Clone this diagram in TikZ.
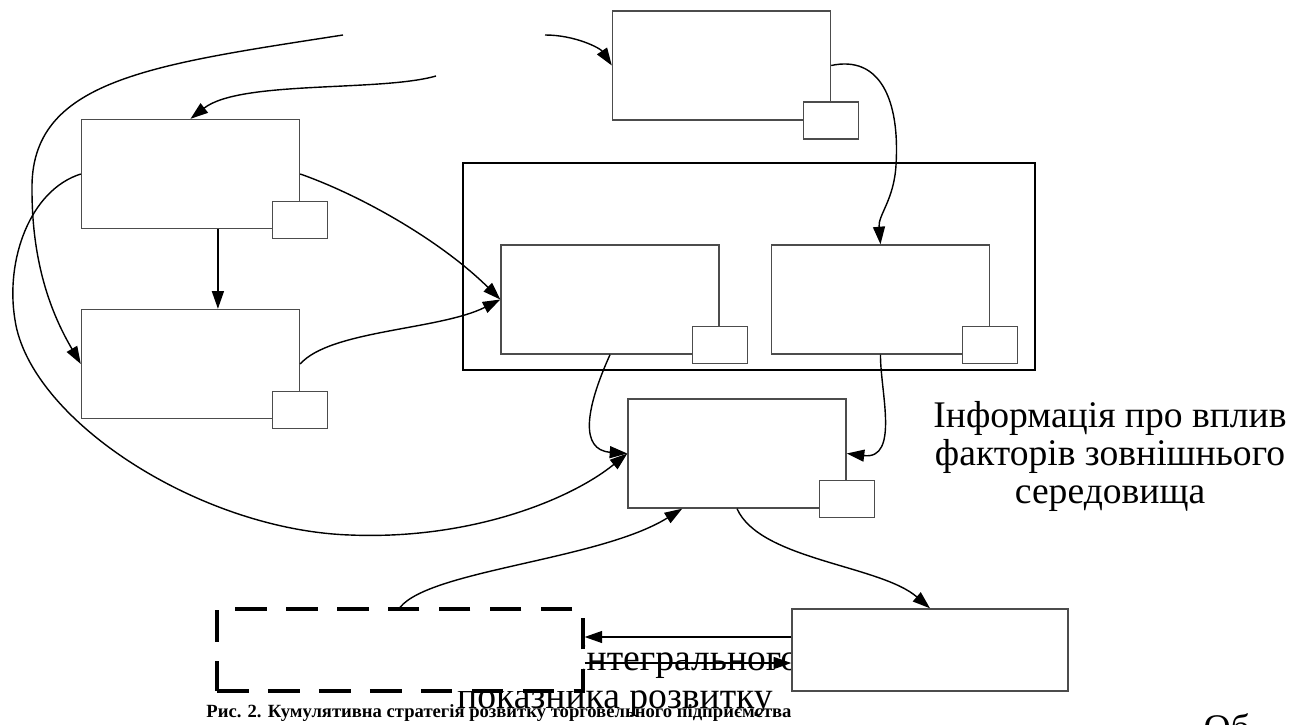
\documentclass[tikz,border=0pt]{standalone}
\usepackage{fontspec}
\setmainfont{Liberation Serif}
\usetikzlibrary{arrows.meta}
\begin{document}
\begin{tikzpicture}[x=0.1mm, y=-0.1mm,
    blk/.style={draw=black!70, fill=white, line width=0.4pt, inner sep=0pt, minimum width=21.8mm, minimum height=10.9mm},
    tag/.style={draw=black!70, fill=white, line width=0.4pt, inner sep=0pt, minimum width=5.5mm, minimum height=3.7mm},
    arr/.style={-{Triangle[length=5pt,width=3.4pt]}, line width=0.4pt},
    lbl/.style={font=\fontsize{10.7}{10.8}\selectfont, inner sep=0pt}]
\useasboundingbox (0,0) rectangle (1307,724);

\node[draw, line width=0.6pt, minimum width=57.2mm, minimum height=20.7mm] (grp) at (749,266.5) {};
\node[blk] (A) at (190.5,174) {};
\node[blk] (B) at (190.5,364) {};
\node[blk] (T) at (721.5,65.5) {};
\node[blk] (L) at (610,299.5) {};
\node[blk] (R) at (880.5,299.5) {};
\node[blk] (M) at (737,453.5) {};
\foreach \b in {A,B,L,R,M}
  \node[tag, yshift=2.7pt] (\b t) at (\b.south east) {};
\node[tag] (Tt) at (T.south east) {};

\node[lbl, anchor=base east] (intg) at (800,670) {Інтегрального};
\node[lbl, anchor=base] (pokaz) at (615,708) {показника розвитку};
\node[lbl, anchor=base west] (ob) at (1203,740) {Об};
\node[lbl, align=center, anchor=north] (info) at (1110,401) {Інформація про вплив\\факторів зовнішнього\\середовища};
\node[font=\bfseries\fontsize{5.3}{6}\selectfont, anchor=base, inner sep=0pt] (cap) at (499,717) {Рис. 2. Кумулятивна стратегія розвитку торговельного підприємства};

\node[blk, draw=black, line width=0.9pt, dash pattern=on 9pt off 5.5pt, minimum width=36.6mm, minimum height=8.2mm] (D) at (400,650) {};
\node[blk, minimum width=27.6mm, minimum height=8.2mm] (BR) at (930,650) {};

\coordinate (s1) at (343,35);
\coordinate (s2) at (436,76);
\coordinate (s3) at (545,35);

\draw[arr] (s1) .. controls (150,65) and (30,80) .. (32,190) .. controls (32,270) and (55,320) .. (B.west);
\draw[arr] (s2) .. controls (380,92) and (240,80) .. (A.north);
\draw[arr] (s3) .. controls (575,35) and (600,48) .. (T.west);
\draw[arr] (T.east) .. controls (880,55) and (900,100) .. (896,165) .. controls (894,200) and (878,215) .. (R.north);
\draw[arr] (A.west) .. controls (30,190) and (5,260) .. (15,320) .. controls (30,420) and (200,530) .. (350,535) .. controls (470,540) and (570,500) .. (M.west);
\draw[arr] (A.east) .. controls (360,195) and (440,240) .. (L.west);
\draw[arr] (B.east) .. controls (330,330) and (440,330) .. (L.west);
\draw[arr] ([xshift=7.8pt]A.south) -- ([xshift=7.8pt]B.north);
\draw[arr] (L.south) .. controls (585,410) and (580,450) .. (M.west);
\draw[arr] (R.south) .. controls (880,390) and (900,460) .. (M.east);
\draw[arr] (M.south) .. controls (760,560) and (880,565) .. (BR.north);
\draw[arr] ([yshift=3.7pt]BR.west) -- ([yshift=3.7pt]D.east);
\draw[arr] ([yshift=-3.7pt]D.east) -- ([yshift=-3.7pt]BR.west);
\draw[arr] (D.north) .. controls (430,570) and (600,560) .. ([xshift=-15.6pt]M.south);
\end{tikzpicture}
\end{document}
